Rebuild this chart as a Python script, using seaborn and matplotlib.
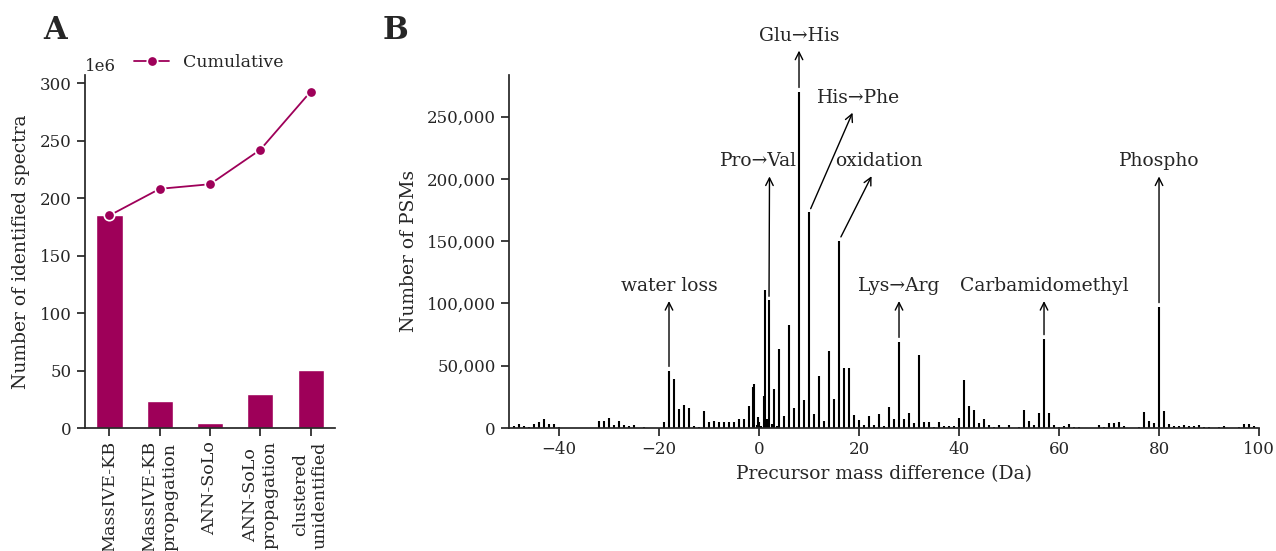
import numpy as np
import pandas as pd
import matplotlib
matplotlib.use("Agg")
import matplotlib.pyplot as plt
import matplotlib.ticker as mticker
import seaborn as sns

# panel A: identified spectra per search stage
stages = ["MassIVE-KB", "MassIVE-KB\npropagation", "ANN-SoLo",
          "ANN-SoLo\npropagation", "clustered\nunidentified"]
stage_counts = [184.8e6, 23.2e6, 4.0e6, 30.0e6, 50.5e6]
cumulative = [184.8e6, 208.0e6, 212.0e6, 242.0e6, 292.5e6]

# panel B: precursor mass difference histogram (Da -> PSMs)
mass_diff = [-49, -48, -47, -46, -45, -44, -43, -42, -41, -40,
             -32, -31, -30, -29, -28, -27, -26, -25, -23,
             -19, -18, -17, -16, -15, -14, -13, -12, -11, -10, -9, -8, -7, -6, -5,
             -4.1, -4, -3, -2, -1.2, -1, -0.5, -0.3, 0, 0.4, 1, 1.15, 1.6, 2, 2.5, 3, 3.5,
             4, 5, 6, 7, 8, 9, 10, 11, 12, 13, 14, 15, 16, 17, 18, 19, 20,
             21, 22, 23, 24, 25, 26, 27, 28, 29, 30, 31, 32, 33, 34, 35, 36, 37, 38, 39,
             40, 41, 42, 43, 44, 45, 46, 47, 48, 50, 52, 53, 54, 55, 56, 57, 58, 59,
             60, 61, 62, 63, 64, 68, 69, 70, 71, 72, 73, 76, 77, 78, 79, 80, 81,
             82, 83, 84, 85, 86, 87, 88, 89, 90, 92, 93, 96, 97, 98, 99]
psms = [1900, 3500, 2000, 1000, 3500, 4500, 7500, 3500, 3500, 1000,
        5900, 5900, 8300, 2700, 5900, 2700, 1900, 2700, 1000,
        5000, 46100, 39700, 15500, 18700, 16300, 1900, 1000, 13900, 4800, 5900, 4800, 4800, 4800, 5100,
        2000, 7500, 7500, 18000, 32700, 35300, 2500, 9100, 5100, 2000, 26000, 110400, 7500, 102400, 3000, 31600, 2000,
        63800, 9900, 82300, 16400, 270000, 22800, 173000, 11500, 42100, 5900, 62200, 23600, 150400, 48500, 48500, 10700, 6700,
        2700, 9900, 2700, 11500, 1900, 17200, 7500, 69400, 7500, 12300, 4300, 59000, 5100, 4800, 1000, 4800, 1600, 1600, 1600,
        8000, 38600, 17700, 14500, 4000, 7200, 2400, 800, 2400, 2400, 800, 14500, 5600, 2400, 12000, 71600, 12000, 2400,
        800, 1600, 3200, 800, 800, 2400, 800, 4000, 4000, 4800, 1600, 800, 12900, 5600, 4000, 97300, 13700,
        3200, 1600, 1600, 2400, 1600, 1600, 2400, 800, 800, 800, 1600, 800, 3200, 3200, 1600]

# labelled modifications: name, mass, text position (x, y)
mod_names = ["water loss", "Pro→Val", "Glu→His", "His→Phe", "oxidation",
             "Lys→Arg", "Carbamidomethyl", "Phospho"]
mod_mass = [-18, 2, 8, 10, 16, 28, 57, 80]
mod_text_x = [-18, -0.2, 8, 20, 24, 28, 57, 80]
mod_text_y = [114000, 214000, 315000, 265000, 214000, 114000, 114000, 214000]

purple = "#9e0059"

sns.set_theme(style="ticks")
plt.rcParams["font.family"] = ["DejaVu Serif"]
plt.rcParams["axes.edgecolor"] = "#262626"

fig = plt.figure(figsize=(12.76, 5.51), dpi=100)
ax_a = fig.add_axes([0.0666, 0.2232, 0.196, 0.641])
ax_b = fig.add_axes([0.3989, 0.2232, 0.5878, 0.641])

# --- A ---
df_a = pd.DataFrame({"stage": stages, "count": stage_counts, "cumulative": cumulative})
sns.barplot(data=df_a, x="stage", y="count", color=purple, saturation=1,
            width=0.52, ax=ax_a)
sns.lineplot(data=df_a, x="stage", y="cumulative", color=purple, marker="o",
             markersize=7.5, markeredgecolor="white", markeredgewidth=1.2,
             lw=1.3, label="Cumulative", ax=ax_a, sort=False)
ax_a.set_xlabel("")
ax_a.set_ylabel("Number of identified spectra", fontsize=13.5, labelpad=7)
ax_a.tick_params(axis="x", labelrotation=90, labelsize=12.6)
ax_a.tick_params(axis="y", labelsize=12)
ax_a.set_ylim(0, None)
ax_a.ticklabel_format(axis="y", style="sci", scilimits=(6, 6))
ax_a.yaxis.get_offset_text().set_fontsize(12)
ax_a.legend(loc="center left", bbox_to_anchor=(0.17, 1.035), frameon=False,
            fontsize=12.5, handlelength=2, borderaxespad=0)

# --- B ---
ax_b.vlines(mass_diff, 0, psms, color="black", lw=1.5)
ax_b.set_xlim(-50, 100)
ax_b.set_ylim(0, max(psms) * 1.05)
ax_b.yaxis.set_major_formatter(mticker.StrMethodFormatter("{x:,.0f}"))
ax_b.set_xlabel("Precursor mass difference (Da)", fontsize=13.5, labelpad=5)
ax_b.set_ylabel("Number of PSMs", fontsize=13.5, labelpad=6)
ax_b.tick_params(labelsize=12)

for name, m, tx, ty in zip(mod_names, mod_mass, mod_text_x, mod_text_y):
    h = psms[mass_diff.index(m)]
    relx = 0.65 if name == "Pro→Val" else 0.5
    ax_b.annotate(name, xy=(m, h), xytext=(tx, ty), ha="center", va="center",
                  fontsize=13.5, color="#262626", annotation_clip=False,
                  arrowprops=dict(arrowstyle="<-", color="black", lw=1,
                                  relpos=(relx, 0.5), shrinkA=2, shrinkB=3))

sns.despine(fig=fig)

fig.text(0.043, 0.945, "A", fontsize=22, fontweight="bold", ha="center",
         va="center", color="#262626")
fig.text(0.31, 0.945, "B", fontsize=22, fontweight="bold", ha="center",
         va="center", color="#262626")

fig.savefig("out.png", dpi=100)
